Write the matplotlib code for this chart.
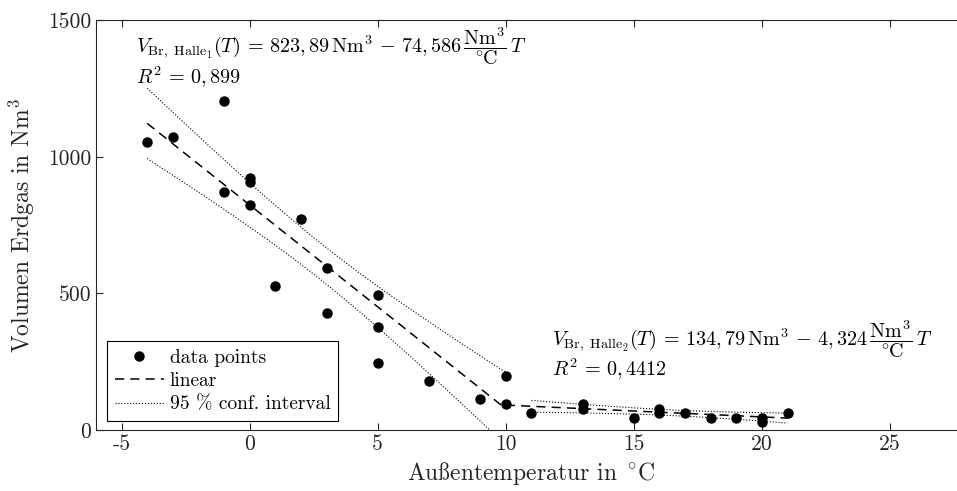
import numpy as np
import matplotlib
matplotlib.use("Agg")
import matplotlib.pyplot as plt
from matplotlib import ft2font, font_manager
from matplotlib.ticker import FuncFormatter

plt.rcParams['font.family'] = ['cmr10', 'DejaVu Serif']
plt.rcParams['mathtext.fontset'] = 'cm'
plt.rcParams['axes.unicode_minus'] = False

# measured points (outside temperature in degC, natural gas volume in Nm3)
temp = [-4, -3, -1, -1, 0, 0, 0, 1, 2, 3, 3, 5, 5, 5, 7, 9, 10, 10,
        11, 13, 13, 15, 16, 16, 17, 18, 19, 20, 20, 21]
volume = [1054, 1072, 1204, 871, 922, 907, 823, 527, 772, 593, 428, 494, 377, 245, 179, 113, 198, 97,
          63, 97, 79, 46, 79, 63, 63, 46, 46, 46, 30, 63]

# regression results from the annotations
fit1_coef = (823.89, -74.586)
fit2_coef = (134.79, -4.324)
fit1_range = (-4, 10)
fit2_range = (10, 21)
ci2_range = (11, 21)
t_crit = {18: 2.120, 12: 2.228}

x_ticks = [-5, 0, 5, 10, 15, 20, 25]
y_ticks = [0, 500, 1000, 1500]

label1 = ("$V_{\\mathrm{Br,\\ Halle}_1}(T)\\,=\\,823,89\\,\\mathrm{Nm}^3\\,-\\,74,586\\,"
          "\\dfrac{\\mathrm{Nm}^3}{{}^\\circ\\!\\mathrm{C}}\\,T$\n$R^2\\,=\\,0,899$")
label2 = ("$V_{\\mathrm{Br,\\ Halle}_2}(T)\\,=\\,134,79\\,\\mathrm{Nm}^3\\,-\\,4,324\\,"
          "\\dfrac{\\mathrm{Nm}^3}{{}^\\circ\\!\\mathrm{C}}\\,T$\n$R^2\\,=\\,0,4412$")


def cm_char(glyph, default):
    # BaKoMa cmr10 keeps TeX positions, look the glyph up by name
    try:
        f = ft2font.FT2Font(font_manager.findfont('cmr10'))
        for code, gi in f.get_charmap().items():
            if f.get_glyph_name(gi) == glyph:
                return chr(code)
    except Exception:
        pass
    return default


def conf_band(xs, ys, coef, xgrid):
    xs = np.asarray(xs, float)
    ys = np.asarray(ys, float)
    b0, b1 = coef
    n = len(xs)
    res = ys - (b0 + b1 * xs)
    s = np.sqrt(np.sum(res ** 2) / (n - 2))
    sxx = np.sum((xs - xs.mean()) ** 2)
    half = t_crit[n] * s * np.sqrt(1.0 / n + (xgrid - xs.mean()) ** 2 / sxx)
    yhat = b0 + b1 * xgrid
    return yhat - half, yhat + half


t_arr = np.array(temp)
v_arr = np.array(volume)
m1 = t_arr <= fit1_range[1]
m2 = t_arr >= ci2_range[0]

gray = '#262626'
fig = plt.figure(figsize=(9.57, 4.91), dpi=100)
ax = fig.add_axes([0.1003, 0.124, 0.910, 0.835])

h_pts, = ax.plot(temp, volume, 'o', color='k', markersize=6.5, label='data points', zorder=3)

xg1 = np.linspace(*fit1_range, 100)
h_lin, = ax.plot(xg1, fit1_coef[0] + fit1_coef[1] * xg1, '--', color='k', lw=1.1, dashes=(6, 4), label='linear')
lo1, hi1 = conf_band(t_arr[m1], v_arr[m1], fit1_coef, xg1)
h_ci, = ax.plot(xg1, lo1, ':', color='k', lw=0.8, label='95 % conf. interval')
ax.plot(xg1, hi1, ':', color='k', lw=0.8)

xg2 = np.linspace(*fit2_range, 100)
ax.plot(xg2, fit2_coef[0] + fit2_coef[1] * xg2, '--', color='k', lw=1.1, dashes=(6, 4))
xc2 = np.linspace(*ci2_range, 100)
lo2, hi2 = conf_band(t_arr[m2], v_arr[m2], fit2_coef, xc2)
ax.plot(xc2, lo2, ':', color='k', lw=0.8)
ax.plot(xc2, hi2, ':', color='k', lw=0.8)

ax.text(-4.45, 1480, label1, fontsize=14.5, va='top', ha='left', linespacing=0.85)
ax.text(11.8, 410, label2, fontsize=14.5, va='top', ha='left', linespacing=0.85)

ax.set_xlim(-6, 28)
ax.set_ylim(0, 1500)
ax.set_xticks(x_ticks)
ax.set_yticks(y_ticks)
ax.xaxis.set_major_formatter(FuncFormatter(lambda v, p: '%d' % v))
ax.tick_params(direction='in', top=True, right=True, length=5, width=0.8,
               colors=gray, labelsize=15.5)
for sp in ax.spines.values():
    sp.set_color(gray)
    sp.set_linewidth(0.8)

ss = cm_char('germandbls', 'ß')
ax.set_xlabel('Au' + ss + 'entemperatur in ${}^\\circ\\!\\mathrm{C}$', fontsize=17, color=gray, labelpad=4)
ax.set_ylabel('Volumen Erdgas in Nm$^3$', fontsize=17, color=gray, labelpad=8)

leg = ax.legend(handles=[h_pts, h_lin, h_ci], loc='lower left', bbox_to_anchor=(0.013, 0.022),
                fontsize=14, frameon=True, fancybox=False, edgecolor='k', framealpha=1,
                handlelength=2.5, handletextpad=0.3, borderpad=0.4, labelspacing=0.28,
                borderaxespad=0)
leg.get_frame().set_linewidth(0.8)

fig.savefig('out.png', dpi=100)
